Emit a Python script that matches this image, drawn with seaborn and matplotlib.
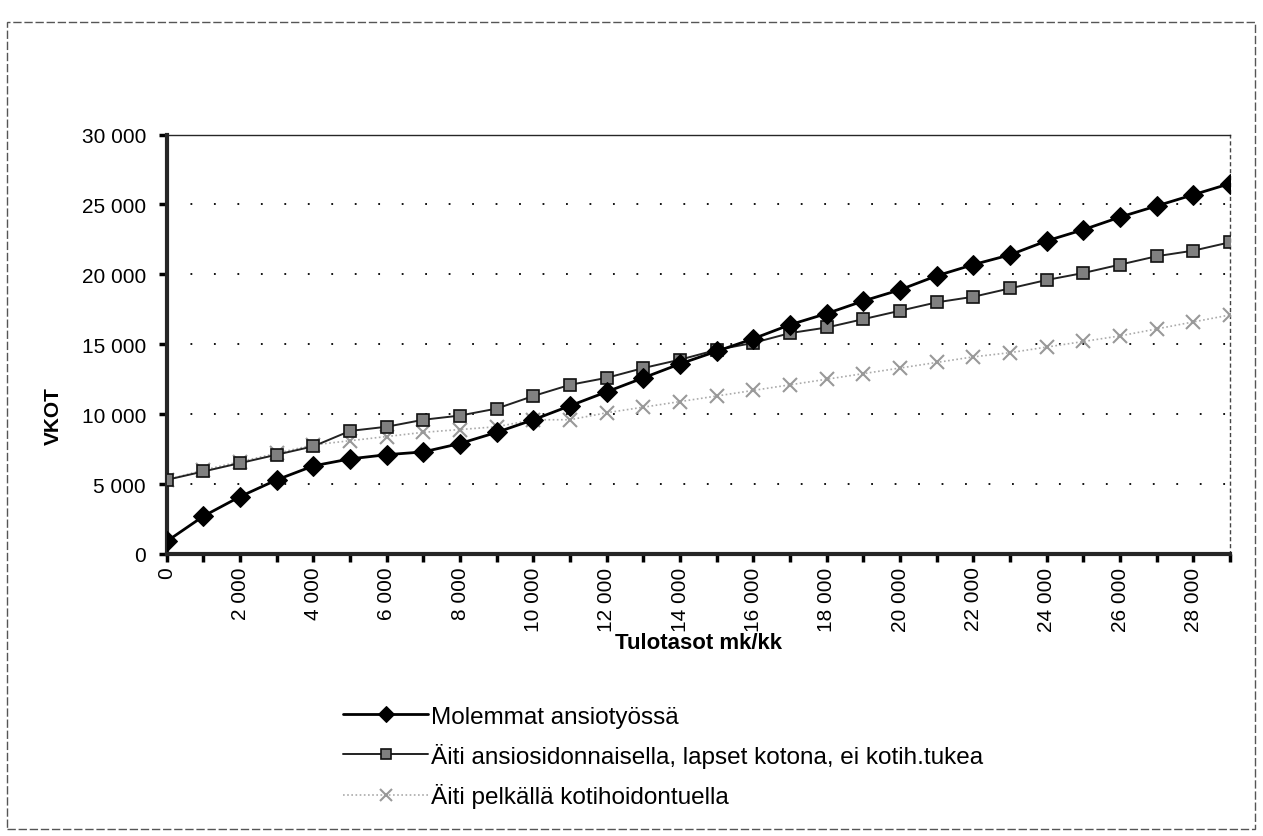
import numpy as np
import pandas as pd
import seaborn as sns
import matplotlib.pyplot as plt
from matplotlib.ticker import FuncFormatter, MultipleLocator
from matplotlib.patches import Rectangle

sns.set_theme(style="ticks")
plt.rcParams['font.family'] = ['Liberation Sans', 'DejaVu Sans']
plt.rcParams['text.color'] = 'black'
plt.rcParams['axes.labelcolor'] = 'black'

# tulotasot mk/kk
tulotasot = list(range(0, 30000, 1000))

molemmat = [900, 2700, 4100, 5300, 6300, 6800, 7100, 7300, 7900, 8700,
            9600, 10600, 11600, 12600, 13600, 14500, 15400, 16400, 17200, 18100,
            18900, 19900, 20700, 21400, 22400, 23200, 24100, 24900, 25700, 26500]
ansiosidonnainen = [5300, 5900, 6500, 7100, 7700, 8800, 9100, 9600, 9900, 10400,
                    11300, 12100, 12600, 13300, 13900, 14600, 15100, 15800, 16200, 16800,
                    17400, 18000, 18400, 19000, 19600, 20100, 20700, 21300, 21700, 22300]
kotihoidontuki = [5300, 6000, 6600, 7200, 7800, 8100, 8400, 8700, 8900, 9100,
                  9600, 9600, 10100, 10500, 10900, 11300, 11700, 12100, 12500, 12900,
                  13300, 13700, 14100, 14400, 14800, 15200, 15600, 16100, 16600, 17100]

labels = ["Molemmat ansiotyössä",
          "Äiti ansiosidonnaisella, lapset kotona, ei kotih.tukea",
          "Äiti pelkällä kotihoidontuella"]

df = pd.DataFrame({"Tulotasot": tulotasot,
                   labels[0]: molemmat,
                   labels[1]: ansiosidonnainen,
                   labels[2]: kotihoidontuki})

fig = plt.figure(figsize=(12.63, 8.37), dpi=100)
ax = fig.add_axes([0.132, 0.337, 0.842, 0.501])

# gridlines first so the lines sit on top
for v in range(5000, 30000, 5000):
    ax.axhline(v, color='black', lw=1.3, linestyle=(0, (1, 12)), zorder=1)

sns.lineplot(data=df, x="Tulotasot", y=labels[2], ax=ax, color='#aaaaaa',
             lw=1.2, linestyle=(0, (1, 1.5)), marker='x', markersize=10,
             markeredgewidth=1.5, markeredgecolor='#999999', label=labels[2], zorder=3)
sns.lineplot(data=df, x="Tulotasot", y=labels[1], ax=ax, color='#222222',
             lw=1.4, marker='s', markersize=9, markerfacecolor='#808080',
             markeredgecolor='#111111', markeredgewidth=1.2, label=labels[1], zorder=4)
sns.lineplot(data=df, x="Tulotasot", y=labels[0], ax=ax, color='black',
             lw=2, marker='D', markersize=10, markerfacecolor='black',
             markeredgecolor='black', label=labels[0], zorder=5)

ax.set_xlim(0, 29000)
ax.set_ylim(0, 30000)
ax.xaxis.set_major_locator(MultipleLocator(2000))
ax.xaxis.set_minor_locator(MultipleLocator(1000))
ax.yaxis.set_major_locator(MultipleLocator(5000))
fmt = FuncFormatter(lambda v, p: f"{int(v):,}".replace(",", " "))
ax.xaxis.set_major_formatter(fmt)
ax.yaxis.set_major_formatter(fmt)
plt.setp(ax.get_xticklabels(), rotation=90)
ax.tick_params(axis='both', which='both', direction='out', length=6, width=2.5,
               colors='black', labelsize=15)
ax.tick_params(axis='x', pad=3)
ax.tick_params(axis='y', pad=9)

ax.spines['left'].set_linewidth(3)
ax.spines['bottom'].set_linewidth(3)
ax.spines['top'].set_linewidth(1)
ax.spines['right'].set_linewidth(1)
ax.spines['right'].set_linestyle((0, (2, 3)))
ax.spines['right'].set_color('#444444')

ax.set_xlabel("Tulotasot mk/kk", fontsize=16, fontweight='bold', labelpad=1)
ax.set_ylabel("VKOT", fontsize=15, fontweight='bold')
ax.yaxis.set_label_coords(-0.098, 0.33)

h, l = ax.get_legend_handles_labels()
order = [l.index(t) for t in labels]
ax.legend([h[i] for i in order], [l[i] for i in order], loc='upper left',
          bbox_to_anchor=(0.262, 0.17), bbox_transform=fig.transFigure,
          frameon=False, fontsize=17.5, handlelength=3.5, handletextpad=0.1,
          labelspacing=0.62, markerscale=0.8, borderpad=0)

fig.patches.append(Rectangle((0.0055, 0.0084), 0.988, 0.964, transform=fig.transFigure,
                             fill=False, lw=1, ls=(0, (6, 2)), edgecolor='#555555'))

fig.savefig("out.png", dpi=100)
